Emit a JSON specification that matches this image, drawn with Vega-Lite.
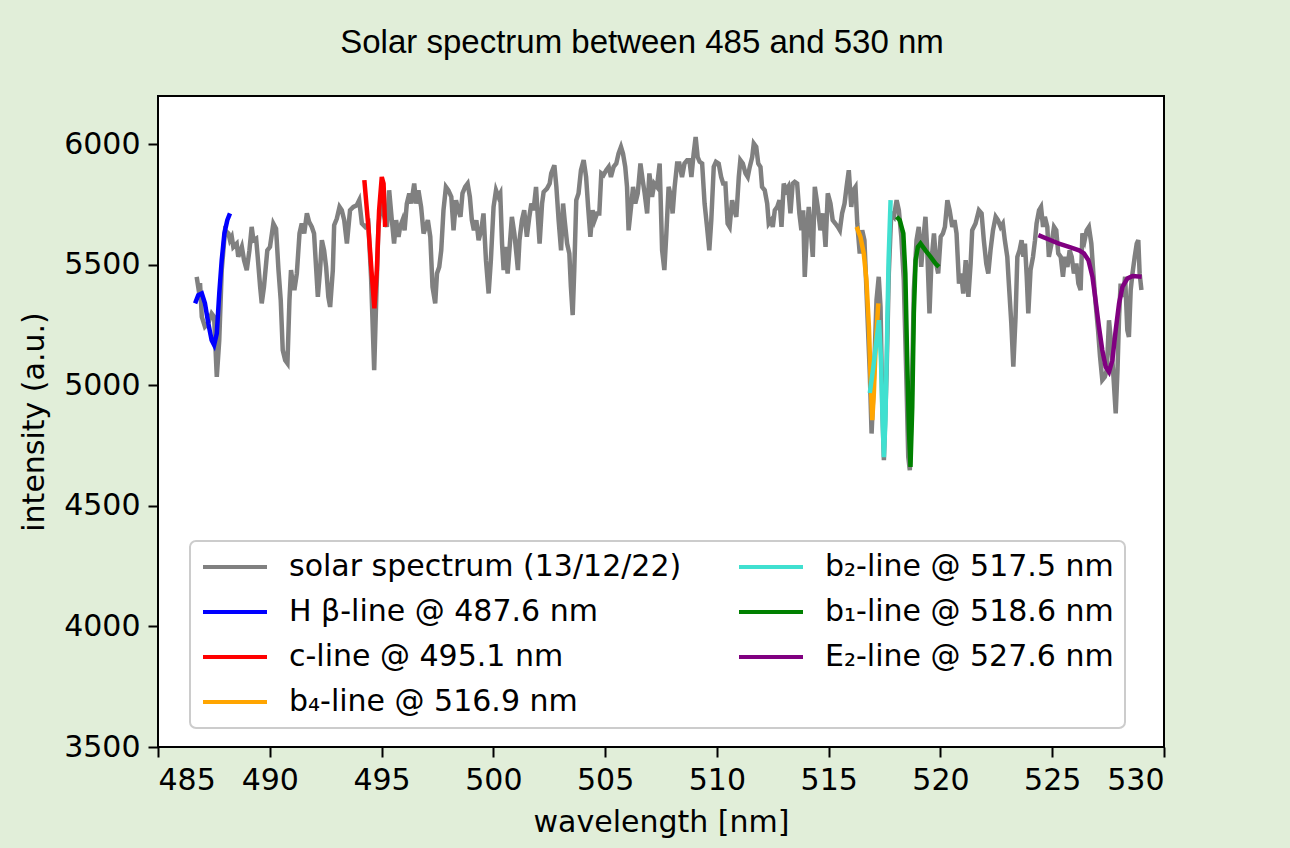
{
  "$schema": "https://vega.github.io/schema/vega-lite/v6.json",
  "width": 1006,
  "height": 651,
  "autosize": {"type": "none"},
  "padding": {"left": 158, "top": 96, "right": 126, "bottom": 101},
  "background": "#e1eed9",
  "title": {"text": "Solar spectrum between 485 and 530 nm", "font": "Liberation Sans", "fontSize": 33, "fontWeight": "normal", "color": "black", "anchor": "middle", "dx": -19, "offset": 36},
  "config": {
    "view": {"fill": "white", "stroke": "black", "strokeWidth": 2},
    "axis": {"labelFont": "DejaVu Sans", "labelFontSize": 30, "labelColor": "black", "titleFont": "DejaVu Sans", "titleFontSize": 30, "titleFontWeight": "normal", "titleColor": "black", "tickColor": "black", "tickWidth": 2, "tickSize": 10, "labelPadding": 8, "domain": false, "grid": false},
    "legend": {"labelFont": "DejaVu Sans", "labelFontSize": 30, "labelColor": "black"}
  },
  "encoding": {
    "x": {"field": "wl", "type": "quantitative", "scale": {"domain": [485, 530], "nice": false, "zero": false}, "axis": {"title": "wavelength [nm]", "values": [485, 490, 495, 500, 505, 510, 515, 520, 525, 530], "format": "d", "titlePadding": 12}},
    "y": {"field": "I", "type": "quantitative", "scale": {"domain": [3500, 6200], "nice": false, "zero": false}, "axis": {"title": "intensity (a.u.)", "values": [3500, 4000, 4500, 5000, 5500, 6000], "format": "d", "titlePadding": 14}}
  },
  "layer": [
    {"data": {"values": [
      {"wl":486.73,"I":5450},{"wl":486.80,"I":5408},{"wl":486.88,"I":5424},{"wl":486.96,"I":5284},{"wl":487.10,"I":5243},{"wl":487.25,"I":5257},{"wl":487.40,"I":5298},{"wl":487.51,"I":5284},{"wl":487.63,"I":5035},{"wl":487.74,"I":5187},{"wl":487.85,"I":5478},{"wl":488.00,"I":5643},{"wl":488.15,"I":5630},{"wl":488.22,"I":5602},{"wl":488.30,"I":5616},{"wl":488.37,"I":5574},{"wl":488.52,"I":5588},{"wl":488.59,"I":5533},{"wl":488.75,"I":5574},{"wl":488.85,"I":5519},{"wl":488.97,"I":5478},{"wl":489.09,"I":5560},{"wl":489.19,"I":5657},{"wl":489.27,"I":5602},{"wl":489.39,"I":5609},{"wl":489.46,"I":5533},{"wl":489.57,"I":5408},{"wl":489.64,"I":5340},{"wl":489.74,"I":5408},{"wl":489.89,"I":5560},{"wl":490.01,"I":5574},{"wl":490.16,"I":5671},{"wl":490.28,"I":5650},{"wl":490.39,"I":5478},{"wl":490.49,"I":5353},{"wl":490.58,"I":5146},{"wl":490.69,"I":5104},{"wl":490.79,"I":5091},{"wl":490.88,"I":5353},{"wl":490.95,"I":5478},{"wl":491.03,"I":5422},{"wl":491.10,"I":5395},{"wl":491.21,"I":5464},{"wl":491.33,"I":5630},{"wl":491.43,"I":5671},{"wl":491.54,"I":5630},{"wl":491.66,"I":5713},{"wl":491.76,"I":5678},{"wl":491.88,"I":5657},{"wl":491.98,"I":5630},{"wl":492.07,"I":5491},{"wl":492.15,"I":5367},{"wl":492.25,"I":5478},{"wl":492.33,"I":5602},{"wl":492.43,"I":5560},{"wl":492.52,"I":5491},{"wl":492.62,"I":5367},{"wl":492.70,"I":5325},{"wl":492.82,"I":5478},{"wl":492.88,"I":5664},{"wl":493.00,"I":5692},{"wl":493.12,"I":5740},{"wl":493.22,"I":5726},{"wl":493.33,"I":5685},{"wl":493.45,"I":5588},{"wl":493.59,"I":5726},{"wl":493.74,"I":5740},{"wl":493.89,"I":5747},{"wl":494.00,"I":5768},{"wl":494.12,"I":5671},{"wl":494.27,"I":5657},{"wl":494.41,"I":5671},{"wl":494.53,"I":5450},{"wl":494.67,"I":5063},{"wl":494.76,"I":5353},{"wl":494.86,"I":5657},{"wl":494.98,"I":5768},{"wl":495.09,"I":5713},{"wl":495.24,"I":5657},{"wl":495.34,"I":5809},{"wl":495.46,"I":5685},{"wl":495.56,"I":5588},{"wl":495.65,"I":5685},{"wl":495.76,"I":5616},{"wl":495.83,"I":5657},{"wl":495.94,"I":5685},{"wl":496.03,"I":5643},{"wl":496.13,"I":5754},{"wl":496.24,"I":5796},{"wl":496.33,"I":5754},{"wl":496.46,"I":5837},{"wl":496.55,"I":5754},{"wl":496.65,"I":5809},{"wl":496.77,"I":5740},{"wl":496.88,"I":5630},{"wl":496.98,"I":5657},{"wl":497.07,"I":5685},{"wl":497.18,"I":5616},{"wl":497.28,"I":5408},{"wl":497.40,"I":5340},{"wl":497.48,"I":5464},{"wl":497.58,"I":5491},{"wl":497.67,"I":5560},{"wl":497.77,"I":5726},{"wl":497.88,"I":5823},{"wl":497.99,"I":5809},{"wl":498.12,"I":5782},{"wl":498.22,"I":5643},{"wl":498.33,"I":5768},{"wl":498.44,"I":5726},{"wl":498.53,"I":5699},{"wl":498.62,"I":5796},{"wl":498.74,"I":5823},{"wl":498.85,"I":5837},{"wl":498.95,"I":5782},{"wl":499.04,"I":5685},{"wl":499.13,"I":5643},{"wl":499.24,"I":5685},{"wl":499.34,"I":5602},{"wl":499.46,"I":5643},{"wl":499.56,"I":5713},{"wl":499.67,"I":5519},{"wl":499.79,"I":5381},{"wl":499.89,"I":5519},{"wl":500.01,"I":5740},{"wl":500.12,"I":5809},{"wl":500.23,"I":5782},{"wl":500.31,"I":5796},{"wl":500.39,"I":5588},{"wl":500.46,"I":5478},{"wl":500.53,"I":5574},{"wl":500.64,"I":5464},{"wl":500.73,"I":5574},{"wl":500.83,"I":5699},{"wl":500.94,"I":5630},{"wl":501.03,"I":5547},{"wl":501.10,"I":5478},{"wl":501.17,"I":5602},{"wl":501.28,"I":5685},{"wl":501.38,"I":5726},{"wl":501.50,"I":5616},{"wl":501.61,"I":5699},{"wl":501.70,"I":5754},{"wl":501.80,"I":5726},{"wl":501.91,"I":5823},{"wl":501.98,"I":5713},{"wl":502.07,"I":5588},{"wl":502.18,"I":5754},{"wl":502.25,"I":5802},{"wl":502.40,"I":5816},{"wl":502.52,"I":5837},{"wl":502.59,"I":5879},{"wl":502.73,"I":5913},{"wl":502.82,"I":5823},{"wl":502.92,"I":5685},{"wl":503.03,"I":5560},{"wl":503.12,"I":5754},{"wl":503.19,"I":5685},{"wl":503.30,"I":5588},{"wl":503.40,"I":5547},{"wl":503.47,"I":5408},{"wl":503.55,"I":5291},{"wl":503.62,"I":5478},{"wl":503.71,"I":5768},{"wl":503.81,"I":5796},{"wl":503.92,"I":5892},{"wl":504.04,"I":5934},{"wl":504.15,"I":5864},{"wl":504.24,"I":5740},{"wl":504.34,"I":5616},{"wl":504.44,"I":5726},{"wl":504.53,"I":5685},{"wl":504.64,"I":5713},{"wl":504.74,"I":5713},{"wl":504.83,"I":5879},{"wl":504.93,"I":5872},{"wl":505.05,"I":5892},{"wl":505.16,"I":5906},{"wl":505.26,"I":5864},{"wl":505.38,"I":5906},{"wl":505.50,"I":5920},{"wl":505.60,"I":5961},{"wl":505.71,"I":5989},{"wl":505.80,"I":5961},{"wl":505.90,"I":5906},{"wl":505.98,"I":5823},{"wl":506.05,"I":5643},{"wl":506.16,"I":5740},{"wl":506.25,"I":5823},{"wl":506.35,"I":5754},{"wl":506.46,"I":5796},{"wl":506.58,"I":5920},{"wl":506.68,"I":5851},{"wl":506.77,"I":5796},{"wl":506.88,"I":5713},{"wl":506.98,"I":5879},{"wl":507.10,"I":5782},{"wl":507.20,"I":5837},{"wl":507.32,"I":5823},{"wl":507.44,"I":5920},{"wl":507.55,"I":5560},{"wl":507.65,"I":5478},{"wl":507.74,"I":5630},{"wl":507.84,"I":5823},{"wl":507.95,"I":5782},{"wl":508.02,"I":5713},{"wl":508.11,"I":5823},{"wl":508.22,"I":5920},{"wl":508.32,"I":5920},{"wl":508.44,"I":5864},{"wl":508.55,"I":5920},{"wl":508.67,"I":5934},{"wl":508.77,"I":5934},{"wl":508.86,"I":5864},{"wl":508.96,"I":5961},{"wl":509.05,"I":6030},{"wl":509.14,"I":5947},{"wl":509.23,"I":5927},{"wl":509.34,"I":5920},{"wl":509.45,"I":5754},{"wl":509.56,"I":5657},{"wl":509.66,"I":5560},{"wl":509.75,"I":5685},{"wl":509.86,"I":5906},{"wl":509.96,"I":5927},{"wl":510.08,"I":5920},{"wl":510.19,"I":5864},{"wl":510.28,"I":5837},{"wl":510.38,"I":5837},{"wl":510.48,"I":5671},{"wl":510.57,"I":5657},{"wl":510.68,"I":5768},{"wl":510.78,"I":5726},{"wl":510.87,"I":5699},{"wl":510.98,"I":5864},{"wl":511.05,"I":5934},{"wl":511.16,"I":5920},{"wl":511.28,"I":5879},{"wl":511.38,"I":5864},{"wl":511.47,"I":5906},{"wl":511.58,"I":5947},{"wl":511.65,"I":6003},{"wl":511.76,"I":5989},{"wl":511.85,"I":5920},{"wl":511.95,"I":5906},{"wl":512.02,"I":5823},{"wl":512.14,"I":5809},{"wl":512.25,"I":5754},{"wl":512.32,"I":5671},{"wl":512.43,"I":5685},{"wl":512.50,"I":5657},{"wl":512.59,"I":5726},{"wl":512.70,"I":5740},{"wl":512.80,"I":5768},{"wl":512.89,"I":5657},{"wl":512.99,"I":5837},{"wl":513.10,"I":5809},{"wl":513.19,"I":5823},{"wl":513.29,"I":5713},{"wl":513.39,"I":5837},{"wl":513.48,"I":5844},{"wl":513.59,"I":5837},{"wl":513.69,"I":5713},{"wl":513.78,"I":5643},{"wl":513.86,"I":5726},{"wl":513.93,"I":5450},{"wl":514.04,"I":5657},{"wl":514.11,"I":5740},{"wl":514.20,"I":5643},{"wl":514.29,"I":5533},{"wl":514.38,"I":5823},{"wl":514.51,"I":5740},{"wl":514.63,"I":5643},{"wl":514.75,"I":5713},{"wl":514.86,"I":5574},{"wl":514.96,"I":5796},{"wl":515.08,"I":5754},{"wl":515.18,"I":5685},{"wl":515.30,"I":5671},{"wl":515.41,"I":5657},{"wl":515.50,"I":5643},{"wl":515.60,"I":5713},{"wl":515.71,"I":5754},{"wl":515.80,"I":5823},{"wl":515.90,"I":5892},{"wl":516.01,"I":5740},{"wl":516.10,"I":5809},{"wl":516.20,"I":5823},{"wl":516.28,"I":5671},{"wl":516.39,"I":5547},{"wl":516.50,"I":5643},{"wl":516.60,"I":5602},{"wl":516.72,"I":5325},{"wl":516.84,"I":5049},{"wl":516.92,"I":4800},{"wl":517.02,"I":5022},{"wl":517.14,"I":5353},{"wl":517.24,"I":5450},{"wl":517.32,"I":5325},{"wl":517.40,"I":4911},{"wl":517.47,"I":4690},{"wl":517.59,"I":5049},{"wl":517.69,"I":5464},{"wl":517.80,"I":5713},{"wl":517.92,"I":5699},{"wl":518.04,"I":5768},{"wl":518.14,"I":5726},{"wl":518.25,"I":5616},{"wl":518.36,"I":5436},{"wl":518.47,"I":5049},{"wl":518.56,"I":4703},{"wl":518.63,"I":4648},{"wl":518.71,"I":4911},{"wl":518.81,"I":5395},{"wl":518.93,"I":5602},{"wl":519.03,"I":5657},{"wl":519.14,"I":5491},{"wl":519.23,"I":5602},{"wl":519.33,"I":5699},{"wl":519.41,"I":5560},{"wl":519.51,"I":5298},{"wl":519.60,"I":5519},{"wl":519.71,"I":5630},{"wl":519.81,"I":5505},{"wl":519.90,"I":5464},{"wl":520.01,"I":5616},{"wl":520.11,"I":5630},{"wl":520.20,"I":5657},{"wl":520.31,"I":5768},{"wl":520.41,"I":5726},{"wl":520.53,"I":5657},{"wl":520.63,"I":5685},{"wl":520.72,"I":5630},{"wl":520.83,"I":5422},{"wl":520.93,"I":5464},{"wl":521.02,"I":5381},{"wl":521.13,"I":5519},{"wl":521.25,"I":5367},{"wl":521.35,"I":5505},{"wl":521.42,"I":5643},{"wl":521.57,"I":5671},{"wl":521.72,"I":5726},{"wl":521.84,"I":5713},{"wl":521.94,"I":5602},{"wl":522.05,"I":5505},{"wl":522.14,"I":5464},{"wl":522.24,"I":5560},{"wl":522.35,"I":5643},{"wl":522.47,"I":5699},{"wl":522.57,"I":5685},{"wl":522.69,"I":5657},{"wl":522.79,"I":5671},{"wl":522.88,"I":5602},{"wl":522.99,"I":5533},{"wl":523.06,"I":5422},{"wl":523.17,"I":5257},{"wl":523.26,"I":5077},{"wl":523.36,"I":5284},{"wl":523.44,"I":5533},{"wl":523.54,"I":5560},{"wl":523.63,"I":5602},{"wl":523.71,"I":5533},{"wl":523.78,"I":5588},{"wl":523.86,"I":5450},{"wl":523.93,"I":5298},{"wl":524.03,"I":5478},{"wl":524.14,"I":5533},{"wl":524.23,"I":5602},{"wl":524.30,"I":5671},{"wl":524.41,"I":5726},{"wl":524.50,"I":5740},{"wl":524.59,"I":5657},{"wl":524.67,"I":5699},{"wl":524.78,"I":5657},{"wl":524.85,"I":5533},{"wl":524.97,"I":5588},{"wl":525.08,"I":5657},{"wl":525.18,"I":5643},{"wl":525.27,"I":5547},{"wl":525.38,"I":5533},{"wl":525.48,"I":5450},{"wl":525.57,"I":5533},{"wl":525.68,"I":5491},{"wl":525.78,"I":5560},{"wl":525.87,"I":5533},{"wl":525.97,"I":5464},{"wl":526.08,"I":5505},{"wl":526.17,"I":5422},{"wl":526.27,"I":5395},{"wl":526.35,"I":5630},{"wl":526.45,"I":5602},{"wl":526.54,"I":5643},{"wl":526.64,"I":5657},{"wl":526.75,"I":5588},{"wl":526.84,"I":5464},{"wl":526.94,"I":5340},{"wl":527.05,"I":5229},{"wl":527.14,"I":5118},{"wl":527.24,"I":5022},{"wl":527.35,"I":5035},{"wl":527.44,"I":5063},{"wl":527.54,"I":5270},{"wl":527.65,"I":5160},{"wl":527.74,"I":5035},{"wl":527.84,"I":4884},{"wl":527.92,"I":5063},{"wl":527.99,"I":5284},{"wl":528.06,"I":5422},{"wl":528.17,"I":5367},{"wl":528.26,"I":5450},{"wl":528.36,"I":5229},{"wl":528.43,"I":5201},{"wl":528.51,"I":5395},{"wl":528.59,"I":5464},{"wl":528.69,"I":5533},{"wl":528.78,"I":5588},{"wl":528.85,"I":5602},{"wl":528.91,"I":5464},{"wl":528.99,"I":5395}
    ]}, "mark": {"type": "line", "strokeWidth": 4.5, "clip": true}, "encoding": {"color": {
      "datum": "solar spectrum (13/12/22)",
      "type": "nominal",
      "scale": {
        "domain": ["solar spectrum (13/12/22)", "H β-line @ 487.6 nm", "c-line @ 495.1 nm", "b₄-line @ 516.9 nm", "b₂-line @ 517.5 nm", "b₁-line @ 518.6 nm", "E₂-line @ 527.6 nm"],
        "range": ["gray", "blue", "red", "orange", "turquoise", "green", "purple"]
      },
      "legend": {
        "title": null,
        "orient": "none",
        "legendX": 32,
        "legendY": 445,
        "columns": 2,
        "columnPadding": 55,
        "rowPadding": 15,
        "padding": 11,
        "clipHeight": 30,
        "symbolType": "stroke",
        "symbolSize": 4096,
        "symbolStrokeWidth": 4,
        "labelOffset": 20,
        "strokeColor": "#cccccc",
        "cornerRadius": 6,
        "fillColor": "white",
        "labelLimit": 600,
        "encode": {"legend": {"update": {"strokeWidth": {"value": 2}}}}
      }
    }}},
    {"data": {"values": [
      {"wl":486.66,"I":5340},{"wl":486.80,"I":5374},{"wl":486.96,"I":5381},{"wl":487.10,"I":5340},{"wl":487.25,"I":5257},{"wl":487.40,"I":5187},{"wl":487.51,"I":5167},{"wl":487.63,"I":5215},{"wl":487.74,"I":5381},{"wl":487.85,"I":5519},{"wl":487.97,"I":5630},{"wl":488.10,"I":5685},{"wl":488.22,"I":5713}
    ]}, "mark": {"type": "line", "strokeWidth": 4.5, "clip": true}, "encoding": {"color": {"datum": "H β-line @ 487.6 nm", "type": "nominal"}}},
    {"data": {"values": [
      {"wl":494.23,"I":5851},{"wl":494.41,"I":5657},{"wl":494.57,"I":5450},{"wl":494.68,"I":5319},{"wl":494.79,"I":5478},{"wl":494.89,"I":5726},{"wl":495.01,"I":5864},{"wl":495.09,"I":5837},{"wl":495.16,"I":5657}
    ]}, "mark": {"type": "line", "strokeWidth": 4.5, "clip": true}, "encoding": {"color": {"datum": "c-line @ 495.1 nm", "type": "nominal"}}},
    {"data": {"values": [
      {"wl":516.25,"I":5657},{"wl":516.42,"I":5616},{"wl":516.57,"I":5547},{"wl":516.69,"I":5436},{"wl":516.80,"I":5243},{"wl":516.87,"I":5049},{"wl":516.95,"I":4856},{"wl":517.02,"I":4966},{"wl":517.10,"I":5160},{"wl":517.22,"I":5340}
    ]}, "mark": {"type": "line", "strokeWidth": 4.5, "clip": true}, "encoding": {"color": {"datum": "b₄-line @ 516.9 nm", "type": "nominal"}}},
    {"data": {"values": [
      {"wl":516.84,"I":4968},{"wl":517.01,"I":5084},{"wl":517.14,"I":5187},{"wl":517.25,"I":5270},{"wl":517.34,"I":5104},{"wl":517.41,"I":4856},{"wl":517.47,"I":4702},{"wl":517.54,"I":4856},{"wl":517.61,"I":5187},{"wl":517.68,"I":5519},{"wl":517.77,"I":5768}
    ]}, "mark": {"type": "line", "strokeWidth": 4.5, "clip": true}, "encoding": {"color": {"datum": "b₂-line @ 517.5 nm", "type": "nominal"}}},
    {"data": {"values": [
      {"wl":518.04,"I":5699},{"wl":518.18,"I":5685},{"wl":518.34,"I":5630},{"wl":518.43,"I":5464},{"wl":518.51,"I":5118},{"wl":518.59,"I":4814},{"wl":518.66,"I":4662},{"wl":518.74,"I":4911},{"wl":518.81,"I":5298},{"wl":518.89,"I":5519},{"wl":518.99,"I":5574},{"wl":519.11,"I":5588},{"wl":519.33,"I":5560},{"wl":519.56,"I":5533},{"wl":519.78,"I":5505},{"wl":519.93,"I":5491}
    ]}, "mark": {"type": "line", "strokeWidth": 4.5, "clip": true}, "encoding": {"color": {"datum": "b₁-line @ 518.6 nm", "type": "nominal"}}},
    {"data": {"values": [
      {"wl":524.38,"I":5623},{"wl":524.85,"I":5605},{"wl":525.30,"I":5588},{"wl":525.75,"I":5574},{"wl":526.20,"I":5560},{"wl":526.42,"I":5547},{"wl":526.62,"I":5519},{"wl":526.80,"I":5450},{"wl":526.94,"I":5353},{"wl":527.09,"I":5243},{"wl":527.24,"I":5146},{"wl":527.39,"I":5077},{"wl":527.54,"I":5056},{"wl":527.69,"I":5104},{"wl":527.84,"I":5229},{"wl":527.99,"I":5340},{"wl":528.14,"I":5408},{"wl":528.36,"I":5443},{"wl":528.59,"I":5453},{"wl":529.00,"I":5450}
    ]}, "mark": {"type": "line", "strokeWidth": 4.5, "clip": true}, "encoding": {"color": {"datum": "E₂-line @ 527.6 nm", "type": "nominal"}}}
  ]
}
